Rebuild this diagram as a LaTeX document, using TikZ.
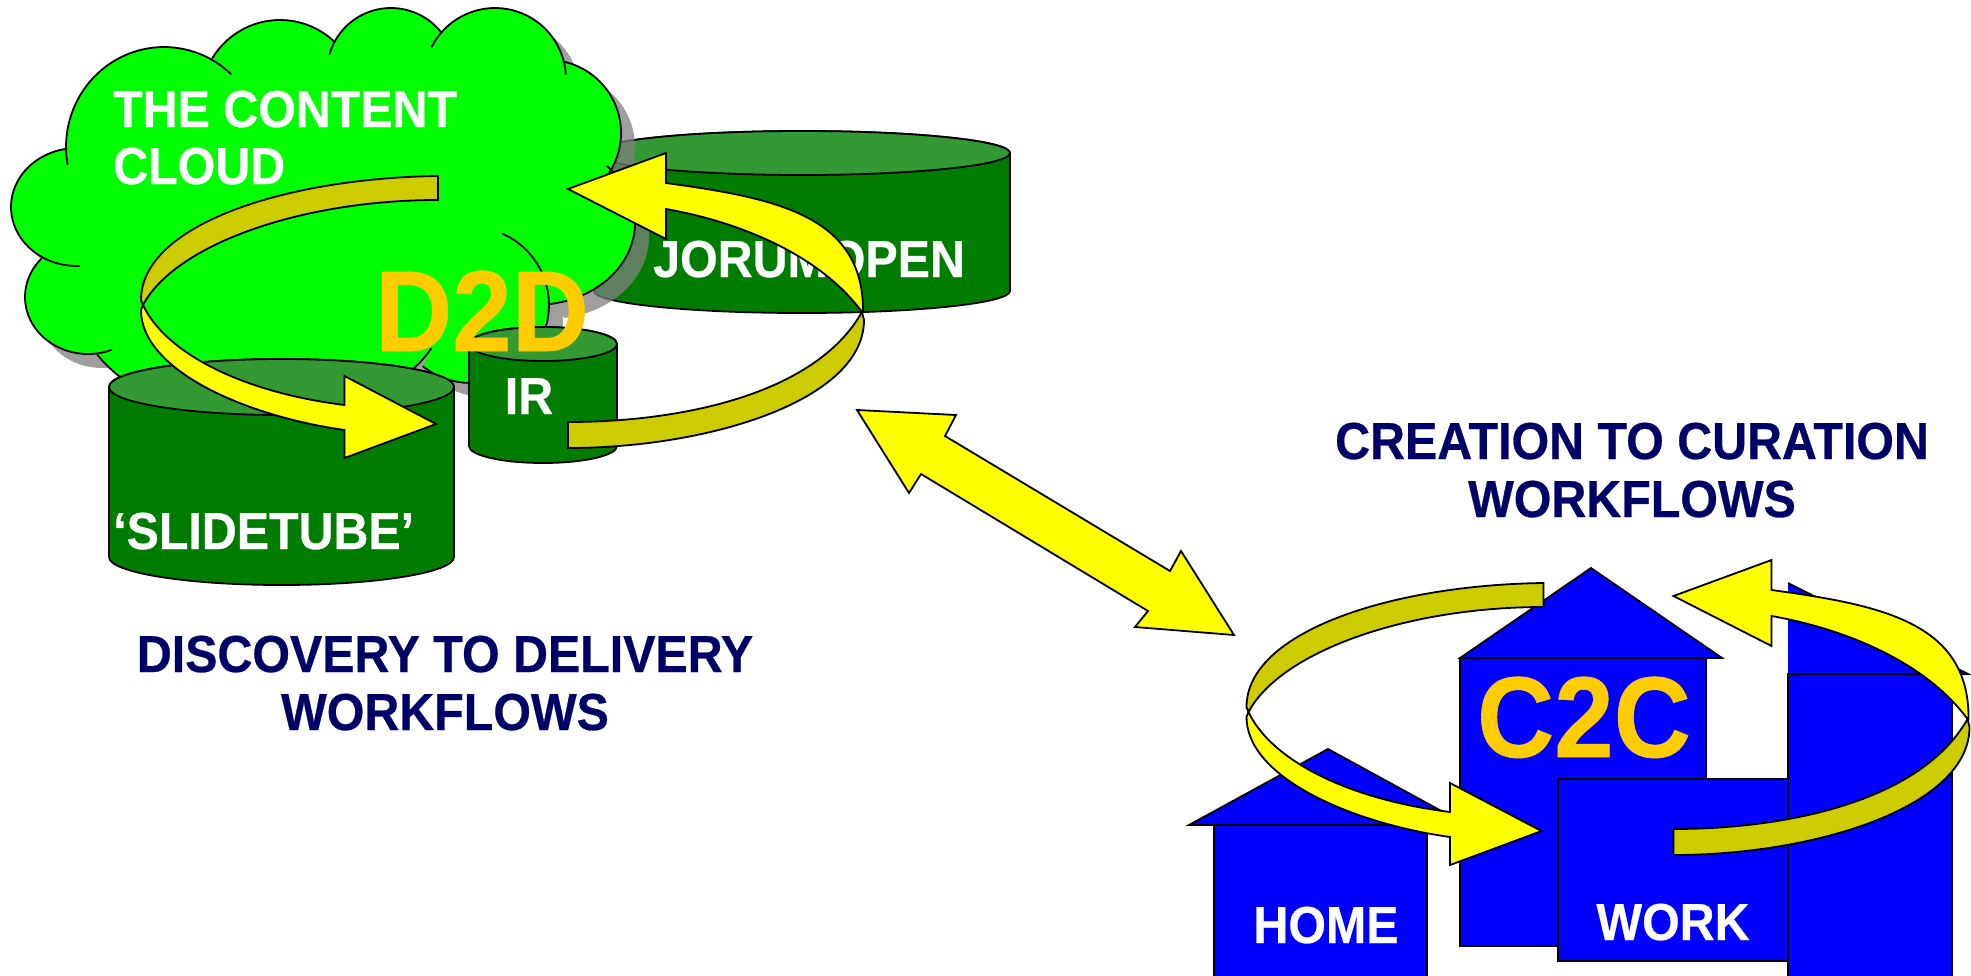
\documentclass[tikz,border=0pt]{standalone}
\usepackage{fontspec}
\setmainfont[FakeStretch=0.93,BoldFeatures={FakeBold=0.5}]{Liberation Sans}
\definecolor{cloudgreen}{HTML}{00FF00}
\definecolor{capgreen}{HTML}{339933}
\definecolor{bodygreen}{HTML}{007D00}
\definecolor{arrowyellow}{HTML}{FFFF00}
\definecolor{arrowdark}{HTML}{CCCC00}
\definecolor{labelorange}{HTML}{FFCC00}
\definecolor{housblue}{HTML}{0000FF}
\definecolor{navytext}{HTML}{000066}
\tikzset{
  outline/.style={draw=black,line width=1.8pt,line join=miter},
  edgeline/.style={draw=black,line width=1.8pt,line cap=round},
  wlabel/.style={text=white,font=\bfseries\fontsize{52}{60}\selectfont,inner sep=0pt,anchor=base west},
  nlabel/.style={text=navytext,font=\bfseries\fontsize{52}{60}\selectfont,inner sep=0pt,anchor=base},
  biglabel/.style={text=labelorange,font=\bfseries\fontsize{115}{125}\selectfont,inner sep=0pt,anchor=base},
  lobeplot/.style 2 args={domain=#1:#2,samples=36,variable=\t},
}
\def\cloudoutline{plot[lobeplot={170}{313}] ({164+98*cos(\t)},{147+100*sin(\t)})
 -- plot[lobeplot={211}{313}] ({280+79*cos(\t)},{99+79*sin(\t)})
 -- plot[lobeplot={196}{322}] ({391+64*cos(\t)},{72+64*sin(\t)})
 -- plot[lobeplot={207}{356}] ({495+71*cos(\t)},{79+71*sin(\t)})
 -- plot[lobeplot={283}{395}] ({548+73*cos(\t)},{133+73*sin(\t)})
 -- plot[lobeplot={316}{441}] ({535+100*cos(\t)},{223+82*sin(\t)})
 -- plot[lobeplot={294}{488}] ({471+78*cos(\t)},{305+78*sin(\t)})
 -- plot[lobeplot={24}{153}] ({262+185*cos(\t)},{300+120*sin(\t)})
 -- plot[lobeplot={68}{222}] ({88+63*cos(\t)},{297+57*sin(\t)})
 -- plot[lobeplot={88}{261}] ({77+66*cos(\t)},{207+59*sin(\t)}) -- cycle}
% cylinder: left, right, centre x, top y, bottom y, x radius, y radius
\newcommand\drumshape[7]{%
  \path[outline,fill=bodygreen] (#1,#5) arc[start angle=180,end angle=360,x radius=#6pt,y radius=#7pt] -- (#2,#4) arc[start angle=0,end angle=180,x radius=#6pt,y radius=#7pt] -- cycle;
  \path[outline,fill=capgreen] (#3,#4) ellipse[x radius=#6pt,y radius=#7pt];
}
% the cycle of two curved arrows, as it stands round D2D
\newcommand\cyclearrow{%
  \path[outline,fill=arrowdark] (438,176) .. controls (285,178) and (141,225) .. (141,300) -- (143,305) .. controls (175,245) and (300,200) .. (438,200) -- cycle;
  \path[outline,fill=arrowyellow] (143,305) .. controls (165,352) and (240,392) .. (344.5,405) -- (344.5,376) -- (436,424) -- (344.5,458) -- (344.5,430) .. controls (245,416) and (141,370) .. (141,310) -- cycle;
  \path[outline,fill=arrowdark] (862,312) .. controls (815,395) and (680,422) .. (568,422) -- (568,448) .. controls (710,448) and (864,400) .. (864,320) -- cycle;
  \path[outline,fill=arrowyellow] (863,312) .. controls (864,215) and (775,198) .. (666,183) -- (666,153) -- (568,189) -- (666,239) -- (666,209) .. controls (740,222) and (820,255) .. (862,312) -- cycle;
}
\begin{document}
\begin{tikzpicture}[x=1pt,y=-1pt]
\useasboundingbox (0,0) rectangle (1971,975);
\clip (0,0) rectangle (1971,975);
\fill[white] (0,0) rectangle (1971,975);

% JORUM cylinder
\drumshape{594}{1010}{802}{153}{291}{208}{22}

% cloud with shadow
\fill[black!50,opacity=.75,shift={(14,14)}] \cloudoutline;
\fill[cloudgreen] \cloudoutline;
\draw[edgeline] plot[lobeplot={170}{313}] ({164+98*cos(\t)},{147+100*sin(\t)});
\draw[edgeline] plot[lobeplot={211}{313}] ({280+79*cos(\t)},{99+79*sin(\t)});
\draw[edgeline] plot[lobeplot={196}{322}] ({391+64*cos(\t)},{72+64*sin(\t)});
\draw[edgeline] plot[lobeplot={207}{356}] ({495+71*cos(\t)},{79+71*sin(\t)});
\draw[edgeline] plot[lobeplot={283}{395}] ({548+73*cos(\t)},{133+73*sin(\t)});
\draw[edgeline] plot[lobeplot={316}{441}] ({535+100*cos(\t)},{223+82*sin(\t)});
\draw[edgeline] plot[lobeplot={294}{488}] ({471+78*cos(\t)},{305+78*sin(\t)});
\draw[edgeline] plot[lobeplot={24}{153}] ({262+185*cos(\t)},{300+120*sin(\t)});
\draw[edgeline] plot[lobeplot={68}{222}] ({88+63*cos(\t)},{297+57*sin(\t)});
\draw[edgeline] plot[lobeplot={88}{261}] ({77+66*cos(\t)},{207+59*sin(\t)});

% other cylinders
\drumshape{109}{454}{281.5}{387}{557}{172.5}{28}
\drumshape{469}{617}{543}{344}{446}{74}{17}

% texts on the left
\node[wlabel] (jorum) at (653,277) {JORUMOPEN};
\node[wlabel] (content) at (113,127) {THE CONTENT};
\node[wlabel] (cloudtxt) at (113,184) {CLOUD};
\node[wlabel,anchor=base] (ir) at (529,414) {IR};
\node[wlabel] (slide) at (113,549) {‘SLIDETUBE’};

% D2D cycle arrow
\cyclearrow

% D2D label
\node[biglabel] (dtwod) at (482,351) {D2D};

% link arrow
\path[outline,fill=arrowyellow] (857,410) -- (956,415) -- (945,436) -- (1170,571) -- (1181,551) -- (1234,635) -- (1135,627) -- (1148,611) -- (921,474) -- (909,493) -- cycle;

% navy captions
\node[nlabel] (disc1) at (445,672) {DISCOVERY TO DELIVERY};
\node[nlabel] (disc2) at (445,730) {WORKFLOWS};
\node[nlabel] (crea1) at (1632,459) {CREATION TO CURATION};
\node[nlabel] (crea2) at (1632,517) {WORKFLOWS};

% houses
\path[outline,fill=housblue] (1214,825) rectangle (1427,990);
\path[outline,fill=housblue] (1328,749) -- (1467,825) -- (1189,825) -- cycle;
\path[outline,fill=housblue] (1460,658) rectangle (1706,946);
\path[outline,fill=housblue] (1591,568) -- (1722,658) -- (1460,658) -- cycle;
\path[outline,fill=housblue] (1558,779) rectangle (1788,961);
\fill[housblue] (1788,583) -- (1968,674) -- (1788,674) -- cycle;
\draw[outline] (1788,583) -- (1968,674) -- (1788,674);
\path[outline,fill=housblue] (1788,674) rectangle (1952,990);

\node[biglabel] (ctwoc) at (1584,757) {C2C};
\node[wlabel,anchor=base] (home) at (1326,943) {HOME};
\node[wlabel,anchor=base] (work) at (1673,940) {WORK};

% C2C cycle arrow
\begin{scope}[shift={(1105.5,407)}]
\cyclearrow
\end{scope}
\end{tikzpicture}
\end{document}
